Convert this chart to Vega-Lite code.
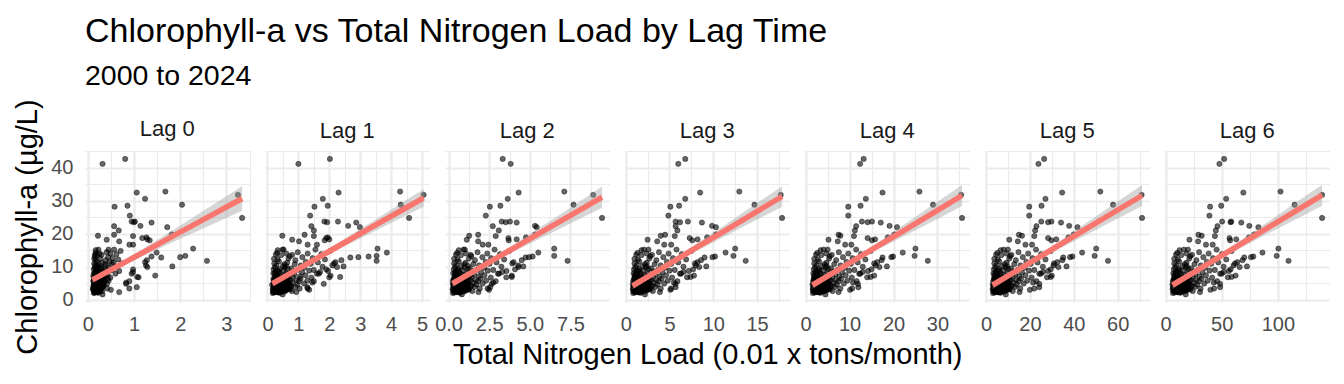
{
"$schema":"https://vega.github.io/schema/vega-lite/v6.json",
"background":"white",
"padding":{"left":13,"top":15,"right":10,"bottom":5},
"bounds":"flush",
"spacing":15,
"title":{"text":"Chlorophyll-a vs Total Nitrogen Load by Lag Time","subtitle":"2000 to 2024","anchor":"start","frame":"group","fontSize":34,"fontWeight":"normal","color":"#000000","subtitleFontSize":28.5,"subtitleColor":"#000000","subtitlePadding":13,"offset":8},
"datasets":{
"pts":[
{"y":42.7,"x0":0.81,"x1":2.02,"x2":3.33,"x3":6.8,"x4":13.2,"x5":26.5,"x6":52.2},
{"y":41.2,"x0":0.32,"x1":1.0,"x2":3.82,"x3":6.0,"x4":12.4,"x5":23.9,"x6":48.0},
{"y":32.5,"x0":1.06,"x1":2.3,"x2":4.31,"x3":8.5,"x4":17.5,"x5":34.7,"x6":69.3},
{"y":32.8,"x0":1.68,"x1":4.29,"x2":7.12,"x3":12.97,"x4":25.9,"x5":52.1,"x6":102.4},
{"y":31.8,"x0":3.25,"x1":5.05,"x2":8.9,"x3":17.7,"x4":35.4,"x5":70.9,"x6":139.4},
{"y":24.8,"x0":3.34,"x1":4.58,"x2":9.44,"x3":17.85,"x4":35.6,"x5":71.1,"x6":139.4},
{"y":28.8,"x0":2.04,"x1":4.31,"x2":7.69,"x3":14.7,"x4":29.0,"x5":57.9,"x6":114.9},
{"y":30.6,"x0":1.24,"x1":1.79,"x2":3.64,"x3":6.8,"x4":13.7,"x5":27.1,"x6":54.0},
{"y":28.2,"x0":0.58,"x1":1.52,"x2":2.54,"x3":5.1,"x4":9.7,"x5":19.7,"x6":39.7},
{"y":28.5,"x0":0.86,"x1":1.95,"x2":3.19,"x3":6.1,"x4":12.5,"x5":25.3,"x6":49.6},
{"y":25.5,"x0":0.91,"x1":1.38,"x2":2.29,"x3":4.87,"x4":9.7,"x5":19.7,"x6":39.1},
{"y":23.7,"x0":0.95,"x1":1.84,"x2":3.27,"x3":5.7,"x4":12.8,"x5":25.2,"x6":50.4},
{"y":23.5,"x0":1.0,"x1":1.93,"x2":3.52,"x3":6.2,"x4":14.1,"x5":28.3,"x6":57.9},
{"y":23.7,"x0":1.02,"x1":2.28,"x2":3.78,"x3":7.1,"x4":15.1,"x5":29.8,"x6":58.5},
{"y":23.4,"x0":1.38,"x1":2.87,"x2":4.19,"x3":8.7,"x4":17.1,"x5":34.2,"x6":67.5},
{"y":22.3,"x0":0.57,"x1":1.42,"x2":2.72,"x3":5.7,"x4":11.5,"x5":23.0,"x6":46.3},
{"y":22.4,"x0":1.14,"x1":2.61,"x2":5.32,"x3":9.85,"x4":19.1,"x5":37.9,"x6":74.6},
{"y":22.0,"x0":1.72,"x1":2.99,"x2":5.42,"x3":10.3,"x4":20.8,"x5":41.7,"x6":82.7},
{"y":21.0,"x0":0.67,"x1":1.5,"x2":3.09,"x3":5.9,"x4":11.2,"x5":22.4,"x6":44.8},
{"y":19.4,"x0":0.22,"x1":0.48,"x2":1.27,"x3":4.0,"x4":7.9,"x5":16.4,"x6":32.2},
{"y":18.2,"x0":0.41,"x1":0.8,"x2":1.12,"x3":2.5,"x4":5.2,"x5":10.6,"x6":21.3},
{"y":19.7,"x0":0.57,"x1":1.2,"x2":1.82,"x3":4.5,"x4":7.5,"x5":15.0,"x6":29.3},
{"y":19.8,"x0":1.82,"x1":2.95,"x2":5.32,"x3":10.3,"x4":20.2,"x5":40.0,"x6":79.0},
{"y":18.9,"x0":1.27,"x1":1.95,"x2":4.76,"x3":9.3,"x4":18.7,"x5":37.6,"x6":74.3},
{"y":18.7,"x0":1.18,"x1":1.9,"x2":3.68,"x3":7.3,"x4":14.1,"x5":28.3,"x6":57.0},
{"y":18.3,"x0":1.29,"x1":2.0,"x2":4.19,"x3":8.2,"x4":15.8,"x5":32.0,"x6":63.0},
{"y":18.0,"x0":1.34,"x1":1.85,"x2":3.7,"x3":7.6,"x4":15.1,"x5":29.8,"x6":57.5},
{"y":17.7,"x0":0.68,"x1":1.02,"x2":1.82,"x3":3.6,"x4":7.3,"x5":14.5,"x6":29.0},
{"y":16.7,"x0":0.9,"x1":1.3,"x2":2.1,"x3":4.4,"x4":9.0,"x5":18.0,"x6":36.0},
{"y":16.7,"x0":0.98,"x1":1.6,"x2":2.45,"x3":5.2,"x4":10.4,"x5":21.0,"x6":42.0},
{"y":15.5,"x0":2.28,"x1":3.56,"x2":6.5,"x3":12.5,"x4":25.0,"x5":50.2,"x6":100.5},
{"y":13.3,"x0":2.11,"x1":3.53,"x2":6.5,"x3":12.3,"x4":24.8,"x5":49.5,"x6":99.0},
{"y":11.8,"x0":2.58,"x1":3.53,"x2":7.32,"x3":13.7,"x4":27.8,"x5":55.6,"x6":109.5},
{"y":14.3,"x0":1.49,"x1":3.86,"x2":5.52,"x3":11.4,"x4":22.1,"x5":43.8,"x6":86.3},
{"y":13.1,"x0":1.38,"x1":3.27,"x2":5.17,"x3":10.2,"x4":19.9,"x5":39.4,"x6":78.2},
{"y":12.9,"x0":2.0,"x1":2.94,"x2":4.95,"x3":9.9,"x4":19.5,"x5":38.3,"x6":76.1},
{"y":12.8,"x0":1.59,"x1":2.68,"x2":4.74,"x3":9.0,"x4":17.5,"x5":35.2,"x6":70.1},
{"y":12.0,"x0":1.28,"x1":2.39,"x2":4.5,"x3":8.6,"x4":17.3,"x5":34.8,"x6":68.6},
{"y":10.1,"x0":1.83,"x1":2.46,"x2":4.6,"x3":9.2,"x4":18.5,"x5":36.7,"x6":72.5},
{"y":10.4,"x0":1.26,"x1":2.1,"x2":4.29,"x3":8.0,"x4":15.9,"x5":30.8,"x6":60.6},
{"y":9.2,"x0":0.98,"x1":1.9,"x2":4.09,"x3":7.7,"x4":15.0,"x5":29.5,"x6":58.0},
{"y":7.3,"x0":1.46,"x1":2.04,"x2":3.89,"x3":7.8,"x4":15.6,"x5":30.0,"x6":62.4},
{"y":6.9,"x0":1.07,"x1":2.35,"x2":3.89,"x3":7.4,"x4":14.8,"x5":29.5,"x6":58.8},
{"y":4.8,"x0":0.83,"x1":1.82,"x2":2.66,"x3":5.7,"x4":11.9,"x5":24.3,"x6":48.6},
{"y":3.8,"x0":1.06,"x1":1.29,"x2":2.56,"x3":5.7,"x4":12.0,"x5":24.3,"x6":48.6},
{"y":3.4,"x0":0.9,"x1":1.3,"x2":2.4,"x3":5.2,"x4":10.6,"x5":22.0,"x6":43.3},
{"y":2.3,"x0":0.68,"x1":0.93,"x2":1.84,"x3":3.9,"x4":7.5,"x5":15.3,"x6":30.7},
{"y":1.6,"x0":0.32,"x1":0.49,"x2":0.82,"x3":2.2,"x4":4.5,"x5":9.0,"x6":18.0},
{"y":15.0,"x0":0.17,"x1":0.33,"x2":0.63,"x3":1.8,"x4":3.4,"x5":6.7,"x6":12.5},
{"y":15.2,"x0":0.45,"x1":0.49,"x2":1.0,"x3":2.6,"x4":5.0,"x5":10.0,"x6":20.0},
{"y":10.2,"x0":0.21,"x1":0.6,"x2":1.2,"x3":2.4,"x4":4.8,"x5":9.6,"x6":19.0},
{"y":19.3,"x0":0.98,"x1":1.5,"x2":2.9,"x3":5.6,"x4":11.0,"x5":22.0,"x6":44.0},
{"y":13.2,"x0":0.15,"x1":0.72,"x2":1.4,"x3":2.8,"x4":5.5,"x5":11.0,"x6":22.0},
{"y":11.4,"x0":1.24,"x1":2.2,"x2":4.0,"x3":8.2,"x4":16.3,"x5":32.5,"x6":64.0},
{"y":9.9,"x0":1.29,"x1":2.25,"x2":4.3,"x3":8.4,"x4":16.8,"x5":33.0,"x6":66.0},
{"y":8.4,"x0":0.98,"x1":1.7,"x2":3.3,"x3":6.6,"x4":13.0,"x5":26.0,"x6":52.0},
{"y":7.9,"x0":0.95,"x1":1.6,"x2":3.1,"x3":6.3,"x4":12.4,"x5":25.0,"x6":50.0},
{"y":5.6,"x0":0.9,"x1":1.5,"x2":2.9,"x3":5.9,"x4":11.6,"x5":23.0,"x6":46.0},
{"y":5.2,"x0":0.83,"x1":1.45,"x2":2.75,"x3":5.5,"x4":10.8,"x5":21.5,"x6":43.0},
{"y":6.8,"x0":1.1,"x1":2.0,"x2":3.55,"x3":7.0,"x4":14.0,"x5":27.8,"x6":55.5},
{"y":3.2,"x0":0.11,"x1":0.17,"x2":0.25,"x3":0.8,"x4":1.6,"x5":3.0,"x6":6.3},
{"y":4.5,"x0":0.13,"x1":0.15,"x2":0.28,"x3":0.82,"x4":1.55,"x5":3.1,"x6":6.2},
{"y":5.6,"x0":0.12,"x1":0.2,"x2":0.26,"x3":0.85,"x4":1.7,"x5":3.3,"x6":6.5},
{"y":2.6,"x0":0.14,"x1":0.18,"x2":0.3,"x3":0.9,"x4":1.75,"x5":3.4,"x6":7.1},
{"y":3.9,"x0":0.12,"x1":0.22,"x2":0.33,"x3":0.9,"x4":1.8,"x5":3.5,"x6":6.9},
{"y":6.3,"x0":0.15,"x1":0.19,"x2":0.31,"x3":0.95,"x4":1.85,"x5":3.7,"x6":7.3},
{"y":3.0,"x0":0.13,"x1":0.24,"x2":0.36,"x3":1.0,"x4":1.95,"x5":3.8,"x6":7.9},
{"y":4.8,"x0":0.16,"x1":0.2,"x2":0.33,"x3":1.0,"x4":2.0,"x5":3.9,"x6":7.7},
{"y":7.2,"x0":0.12,"x1":0.25,"x2":0.4,"x3":1.02,"x4":1.9,"x5":3.8,"x6":7.8},
{"y":2.2,"x0":0.15,"x1":0.21,"x2":0.36,"x3":1.05,"x4":2.1,"x5":4.0,"x6":8.3},
{"y":3.6,"x0":0.14,"x1":0.27,"x2":0.42,"x3":1.1,"x4":2.1,"x5":4.3,"x6":8.5},
{"y":5.3,"x0":0.17,"x1":0.23,"x2":0.38,"x3":1.1,"x4":2.2,"x5":4.2,"x6":8.7},
{"y":4.1,"x0":0.15,"x1":0.3,"x2":0.45,"x3":1.15,"x4":2.25,"x5":4.4,"x6":9.0},
{"y":2.8,"x0":0.18,"x1":0.25,"x2":0.43,"x3":1.2,"x4":2.3,"x5":4.5,"x6":9.4},
{"y":6.0,"x0":0.14,"x1":0.3,"x2":0.5,"x3":1.2,"x4":2.4,"x5":4.7,"x6":9.2},
{"y":8.4,"x0":0.17,"x1":0.26,"x2":0.42,"x3":1.22,"x4":2.35,"x5":4.6,"x6":9.3},
{"y":3.4,"x0":0.16,"x1":0.31,"x2":0.48,"x3":1.25,"x4":2.45,"x5":4.8,"x6":9.8},
{"y":4.6,"x0":0.19,"x1":0.28,"x2":0.52,"x3":1.3,"x4":2.5,"x5":5.0,"x6":10.0},
{"y":5.8,"x0":0.15,"x1":0.33,"x2":0.49,"x3":1.3,"x4":2.6,"x5":5.1,"x6":10.2},
{"y":2.4,"x0":0.17,"x1":0.3,"x2":0.55,"x3":1.35,"x4":2.65,"x5":5.2,"x6":10.4},
{"y":3.1,"x0":0.2,"x1":0.35,"x2":0.54,"x3":1.4,"x4":2.7,"x5":5.4,"x6":10.9},
{"y":7.0,"x0":0.16,"x1":0.31,"x2":0.58,"x3":1.4,"x4":2.8,"x5":5.4,"x6":11.0},
{"y":4.2,"x0":0.18,"x1":0.37,"x2":0.6,"x3":1.45,"x4":2.85,"x5":5.6,"x6":11.3},
{"y":5.1,"x0":0.21,"x1":0.34,"x2":0.62,"x3":1.5,"x4":2.9,"x5":5.8,"x6":11.6},
{"y":9.3,"x0":0.17,"x1":0.39,"x2":0.58,"x3":1.52,"x4":3.0,"x5":5.9,"x6":11.8},
{"y":2.9,"x0":0.19,"x1":0.36,"x2":0.66,"x3":1.55,"x4":3.05,"x5":6.0,"x6":12.1},
{"y":3.7,"x0":0.22,"x1":0.4,"x2":0.63,"x3":1.6,"x4":3.1,"x5":6.2,"x6":12.4},
{"y":6.4,"x0":0.18,"x1":0.37,"x2":0.69,"x3":1.6,"x4":3.15,"x5":6.3,"x6":12.6},
{"y":4.5,"x0":0.2,"x1":0.42,"x2":0.7,"x3":1.65,"x4":3.2,"x5":6.4,"x6":12.9},
{"y":2.1,"x0":0.23,"x1":0.39,"x2":0.72,"x3":1.7,"x4":3.35,"x5":6.6,"x6":13.2},
{"y":5.5,"x0":0.19,"x1":0.44,"x2":0.69,"x3":1.7,"x4":3.3,"x5":6.5,"x6":13.4},
{"y":7.8,"x0":0.21,"x1":0.41,"x2":0.76,"x3":1.75,"x4":3.45,"x5":6.8,"x6":13.6},
{"y":3.3,"x0":0.24,"x1":0.46,"x2":0.74,"x3":1.8,"x4":3.5,"x5":7.0,"x6":14.0},
{"y":4.9,"x0":0.2,"x1":0.43,"x2":0.79,"x3":1.8,"x4":3.55,"x5":6.9,"x6":14.1},
{"y":6.1,"x0":0.22,"x1":0.47,"x2":0.77,"x3":1.85,"x4":3.6,"x5":7.2,"x6":14.4},
{"y":2.7,"x0":0.25,"x1":0.45,"x2":0.83,"x3":1.9,"x4":3.75,"x5":7.4,"x6":14.7},
{"y":10.2,"x0":0.2,"x1":0.5,"x2":0.8,"x3":1.9,"x4":3.7,"x5":7.3,"x6":14.9},
{"y":4.0,"x0":0.23,"x1":0.49,"x2":0.86,"x3":1.95,"x4":3.85,"x5":7.5,"x6":15.1},
{"y":5.7,"x0":0.26,"x1":0.47,"x2":0.88,"x3":2.0,"x4":3.9,"x5":7.7,"x6":15.6},
{"y":8.9,"x0":0.21,"x1":0.52,"x2":0.85,"x3":2.0,"x4":3.95,"x5":7.8,"x6":15.5},
{"y":3.5,"x0":0.24,"x1":0.5,"x2":0.9,"x3":2.05,"x4":4.0,"x5":7.9,"x6":16.0},
{"y":4.4,"x0":0.27,"x1":0.54,"x2":0.93,"x3":2.1,"x4":4.1,"x5":8.1,"x6":16.3},
{"y":6.8,"x0":0.22,"x1":0.51,"x2":0.9,"x3":2.1,"x4":4.15,"x5":8.2,"x6":16.5},
{"y":2.5,"x0":0.25,"x1":0.55,"x2":0.96,"x3":2.15,"x4":4.2,"x5":8.3,"x6":16.8},
{"y":5.0,"x0":0.28,"x1":0.53,"x2":0.99,"x3":2.2,"x4":4.3,"x5":8.5,"x6":17.1},
{"y":7.5,"x0":0.23,"x1":0.57,"x2":0.95,"x3":2.2,"x4":4.35,"x5":8.5,"x6":17.3},
{"y":3.8,"x0":0.26,"x1":0.6,"x2":1.04,"x3":2.3,"x4":4.5,"x5":8.9,"x6":17.9},
{"y":9.8,"x0":0.29,"x1":0.56,"x2":1.0,"x3":2.3,"x4":4.55,"x5":9.0,"x6":18.1},
{"y":6.2,"x0":0.24,"x1":0.62,"x2":1.07,"x3":2.35,"x4":4.6,"x5":9.1,"x6":18.4},
{"y":4.3,"x0":0.27,"x1":0.59,"x2":1.09,"x3":2.4,"x4":4.7,"x5":9.3,"x6":18.8},
{"y":11.2,"x0":0.3,"x1":0.64,"x2":1.05,"x3":2.4,"x4":4.75,"x5":9.4,"x6":18.7},
{"y":2.9,"x0":0.25,"x1":0.61,"x2":1.12,"x3":2.45,"x4":4.8,"x5":9.5,"x6":19.2},
{"y":5.4,"x0":0.29,"x1":0.66,"x2":1.1,"x3":2.5,"x4":4.9,"x5":9.7,"x6":19.4},
{"y":8.1,"x0":0.26,"x1":0.62,"x2":1.14,"x3":2.5,"x4":4.95,"x5":9.8,"x6":19.6},
{"y":3.6,"x0":0.3,"x1":0.68,"x2":1.16,"x3":2.6,"x4":5.1,"x5":10.1,"x6":20.3},
{"y":6.6,"x0":0.27,"x1":0.65,"x2":1.2,"x3":2.6,"x4":5.15,"x5":10.0,"x6":20.2},
{"y":4.7,"x0":0.31,"x1":0.71,"x2":1.21,"x3":2.7,"x4":5.3,"x5":10.5,"x6":21.0},
{"y":12.5,"x0":0.27,"x1":0.68,"x2":1.25,"x3":2.7,"x4":5.35,"x5":10.6,"x6":21.2},
{"y":7.3,"x0":0.32,"x1":0.7,"x2":1.3,"x3":2.8,"x4":5.5,"x5":10.9,"x6":21.9},
{"y":3.1,"x0":0.28,"x1":0.74,"x2":1.26,"x3":2.8,"x4":5.55,"x5":10.8,"x6":22.0},
{"y":5.9,"x0":0.33,"x1":0.75,"x2":1.35,"x3":2.9,"x4":5.7,"x5":11.3,"x6":22.6},
{"y":9.5,"x0":0.29,"x1":0.77,"x2":1.31,"x3":2.9,"x4":5.75,"x5":11.4,"x6":22.8},
{"y":4.2,"x0":0.34,"x1":0.76,"x2":1.4,"x3":3.0,"x4":5.9,"x5":11.7,"x6":23.4},
{"y":13.6,"x0":0.3,"x1":0.8,"x2":1.36,"x3":3.0,"x4":5.95,"x5":11.6,"x6":23.6},
{"y":6.9,"x0":0.35,"x1":0.82,"x2":1.42,"x3":3.1,"x4":6.1,"x5":12.1,"x6":24.3},
{"y":2.6,"x0":0.31,"x1":0.79,"x2":1.46,"x3":3.1,"x4":6.15,"x5":12.2,"x6":24.2},
{"y":8.6,"x0":0.36,"x1":0.85,"x2":1.48,"x3":3.2,"x4":6.3,"x5":12.5,"x6":25.0},
{"y":5.2,"x0":0.32,"x1":0.81,"x2":1.51,"x3":3.2,"x4":6.35,"x5":12.4,"x6":25.1},
{"y":10.8,"x0":0.37,"x1":0.88,"x2":1.52,"x3":3.3,"x4":6.5,"x5":12.9,"x6":25.8},
{"y":3.9,"x0":0.33,"x1":0.9,"x2":1.61,"x3":3.4,"x4":6.7,"x5":13.3,"x6":26.5},
{"y":7.7,"x0":0.38,"x1":0.87,"x2":1.57,"x3":3.4,"x4":6.75,"x5":13.4,"x6":26.7},
{"y":6.0,"x0":0.34,"x1":0.94,"x2":1.66,"x3":3.5,"x4":6.9,"x5":13.7,"x6":27.3},
{"y":12.0,"x0":0.39,"x1":0.9,"x2":1.62,"x3":3.5,"x4":6.95,"x5":13.6,"x6":27.5},
{"y":4.6,"x0":0.35,"x1":0.96,"x2":1.72,"x3":3.6,"x4":7.1,"x5":14.1,"x6":28.2},
{"y":9.1,"x0":0.4,"x1":0.98,"x2":1.74,"x3":3.7,"x4":7.3,"x5":14.5,"x6":29.0},
{"y":5.6,"x0":0.37,"x1":1.02,"x2":1.82,"x3":3.8,"x4":7.5,"x5":14.9,"x6":29.8},
{"y":14.4,"x0":0.41,"x1":0.98,"x2":1.78,"x3":3.8,"x4":7.55,"x5":14.8,"x6":29.9},
{"y":7.1,"x0":0.38,"x1":1.05,"x2":1.86,"x3":3.9,"x4":7.7,"x5":15.2,"x6":30.5},
{"y":3.4,"x0":0.42,"x1":1.04,"x2":1.92,"x3":4.0,"x4":7.9,"x5":15.6,"x6":31.2},
{"y":10.4,"x0":0.39,"x1":1.08,"x2":1.88,"x3":4.0,"x4":7.95,"x5":15.7,"x6":31.4},
{"y":6.4,"x0":0.43,"x1":1.07,"x2":1.97,"x3":4.1,"x4":8.1,"x5":16.0,"x6":32.1},
{"y":8.3,"x0":0.4,"x1":1.12,"x2":2.0,"x3":4.2,"x4":8.3,"x5":16.4,"x6":32.9},
{"y":12.9,"x0":0.44,"x1":1.13,"x2":2.08,"x3":4.3,"x4":8.5,"x5":16.8,"x6":33.7},
{"y":4.9,"x0":0.42,"x1":1.18,"x2":2.1,"x3":4.4,"x4":8.7,"x5":17.2,"x6":34.5},
{"y":9.7,"x0":0.46,"x1":1.19,"x2":2.18,"x3":4.5,"x4":8.9,"x5":17.6,"x6":35.2},
{"y":7.4,"x0":0.43,"x1":1.23,"x2":2.21,"x3":4.6,"x4":9.1,"x5":18.0,"x6":36.0},
{"y":11.5,"x0":0.47,"x1":1.24,"x2":2.28,"x3":4.7,"x4":9.3,"x5":18.4,"x6":36.8},
{"y":5.8,"x0":0.45,"x1":1.29,"x2":2.31,"x3":4.8,"x4":9.5,"x5":18.8,"x6":37.6},
{"y":14.0,"x0":0.49,"x1":1.3,"x2":2.38,"x3":4.9,"x4":9.7,"x5":19.2,"x6":38.4},
{"y":8.8,"x0":0.47,"x1":1.35,"x2":2.41,"x3":5.0,"x4":9.9,"x5":19.6,"x6":39.2},
{"y":3.0,"x0":0.5,"x1":1.35,"x2":2.49,"x3":5.1,"x4":10.1,"x5":20.0,"x6":40.0},
{"y":10.9,"x0":0.52,"x1":1.4,"x2":2.52,"x3":5.2,"x4":10.3,"x5":20.4,"x6":40.7},
{"y":6.7,"x0":0.49,"x1":1.42,"x2":2.6,"x3":5.3,"x4":10.5,"x5":20.8,"x6":41.5},
{"y":12.6,"x0":0.54,"x1":1.46,"x2":2.62,"x3":5.4,"x4":10.7,"x5":21.2,"x6":42.3},
{"y":9.0,"x0":0.52,"x1":1.5,"x2":2.75,"x3":5.6,"x4":11.1,"x5":22.0,"x6":43.9},
{"y":15.2,"x0":0.57,"x1":1.55,"x2":2.83,"x3":5.8,"x4":11.5,"x5":22.8,"x6":45.5},
{"y":11.3,"x0":0.56,"x1":1.63,"x2":2.95,"x3":6.0,"x4":11.85,"x5":23.5,"x6":47.0},
{"y":7.9,"x0":0.6,"x1":1.66,"x2":3.04,"x3":6.2,"x4":12.2,"x5":24.3,"x6":48.6},
{"y":13.8,"x0":0.62,"x1":1.74,"x2":3.16,"x3":6.4,"x4":12.6,"x5":25.1,"x6":50.2},
{"y":10.0,"x0":0.63,"x1":1.78,"x2":3.25,"x3":6.6,"x4":13.0,"x5":25.9,"x6":51.7},
{"y":12.2,"x0":0.66,"x1":1.86,"x2":3.42,"x3":6.9,"x4":13.6,"x5":27.1,"x6":54.1},
{"y":8.7,"x0":0.68,"x1":1.96,"x2":3.56,"x3":7.2,"x4":14.2,"x5":28.3,"x6":56.4},
{"y":14.8,"x0":0.71,"x1":2.03,"x2":3.73,"x3":7.5,"x4":14.8,"x5":29.5,"x6":58.8},
{"y":11.0,"x0":0.74,"x1":2.15,"x2":3.92,"x3":7.9,"x4":15.6,"x5":31.0,"x6":61.9},
{"y":4.9,"x0":0.14,"x1":0.2,"x2":0.29,"x3":0.9,"x4":1.75,"x5":3.4,"x6":7.0},
{"y":5.9,"x0":0.13,"x1":0.22,"x2":0.35,"x3":1.0,"x4":1.95,"x5":3.8,"x6":7.8},
{"y":2.9,"x0":0.15,"x1":0.25,"x2":0.4,"x3":1.1,"x4":2.15,"x5":4.2,"x6":8.6},
{"y":4.4,"x0":0.16,"x1":0.28,"x2":0.44,"x3":1.2,"x4":2.35,"x5":4.6,"x6":9.3},
{"y":3.0,"x0":0.17,"x1":0.3,"x2":0.5,"x3":1.3,"x4":2.55,"x5":5.0,"x6":10.1},
{"y":5.5,"x0":0.17,"x1":0.33,"x2":0.55,"x3":1.4,"x4":2.75,"x5":5.4,"x6":10.9},
{"y":3.9,"x0":0.18,"x1":0.36,"x2":0.6,"x3":1.5,"x4":2.95,"x5":5.8,"x6":11.7},
{"y":2.6,"x0":0.19,"x1":0.38,"x2":0.66,"x3":1.6,"x4":3.15,"x5":6.2,"x6":12.5},
{"y":4.0,"x0":0.2,"x1":0.41,"x2":0.71,"x3":1.7,"x4":3.35,"x5":6.6,"x6":13.3},
{"y":5.9,"x0":0.21,"x1":0.44,"x2":0.76,"x3":1.8,"x4":3.55,"x5":7.0,"x6":14.0},
{"y":3.8,"x0":0.22,"x1":0.47,"x2":0.81,"x3":1.9,"x4":3.75,"x5":7.35,"x6":14.8},
{"y":2.9,"x0":0.23,"x1":0.5,"x2":0.86,"x3":2.0,"x4":3.95,"x5":7.7,"x6":15.6},
{"y":5.6,"x0":0.23,"x1":0.52,"x2":0.92,"x3":2.1,"x4":4.1,"x5":8.1,"x6":16.4},
{"y":3.2,"x0":0.24,"x1":0.55,"x2":0.97,"x3":2.2,"x4":4.3,"x5":8.5,"x6":17.2},
{"y":5.0,"x0":0.26,"x1":0.61,"x2":1.07,"x3":2.4,"x4":4.7,"x5":9.3,"x6":18.8},
{"y":3.4,"x0":0.27,"x1":0.64,"x2":1.12,"x3":2.5,"x4":4.9,"x5":9.7,"x6":19.5},
{"y":6.0,"x0":0.29,"x1":0.69,"x2":1.23,"x3":2.7,"x4":5.3,"x5":10.5,"x6":21.1},
{"y":4.1,"x0":0.3,"x1":0.75,"x2":1.33,"x3":2.9,"x4":5.7,"x5":11.3,"x6":22.7},
{"y":7.7,"x0":0.16,"x1":0.3,"x2":0.5,"x3":1.3,"x4":2.55,"x5":5.0,"x6":10.1},
{"y":8.6,"x0":0.19,"x1":0.38,"x2":0.66,"x3":1.6,"x4":3.15,"x5":6.2,"x6":12.5},
{"y":10.8,"x0":0.24,"x1":0.55,"x2":0.97,"x3":2.2,"x4":4.3,"x5":8.5,"x6":17.2},
{"y":9.3,"x0":0.28,"x1":0.66,"x2":1.18,"x3":2.6,"x4":5.1,"x5":10.1,"x6":20.3},
{"y":9.8,"x0":0.15,"x1":0.24,"x2":0.4,"x3":1.1,"x4":2.15,"x5":4.2,"x6":8.6},
{"y":11.0,"x0":0.14,"x1":0.22,"x2":0.34,"x3":1.0,"x4":1.95,"x5":3.8,"x6":7.8},
{"y":8.0,"x0":0.13,"x1":0.19,"x2":0.29,"x3":0.9,"x4":1.75,"x5":3.4,"x6":7.0},
{"y":12.2,"x0":0.17,"x1":0.33,"x2":0.55,"x3":1.4,"x4":2.75,"x5":5.4,"x6":10.9},
{"y":13.5,"x0":0.21,"x1":0.44,"x2":0.76,"x3":1.8,"x4":3.55,"x5":7.0,"x6":14.0},
{"y":14.0,"x0":0.26,"x1":0.61,"x2":1.07,"x3":2.4,"x4":4.7,"x5":9.3,"x6":18.8},
{"y":13.7,"x0":0.16,"x1":0.27,"x2":0.45,"x3":1.2,"x4":2.35,"x5":4.6,"x6":9.3},
{"y":15.2,"x0":0.23,"x1":0.52,"x2":0.92,"x3":2.1,"x4":4.1,"x5":8.1,"x6":16.4},
{"y":2.0,"x0":0.13,"x1":0.17,"x2":0.27,"x3":0.85,"x4":1.65,"x5":3.2,"x6":6.6},
{"y":3.4,"x0":0.12,"x1":0.19,"x2":0.29,"x3":0.9,"x4":1.75,"x5":3.4,"x6":7.0},
{"y":4.2,"x0":0.14,"x1":0.2,"x2":0.32,"x3":0.95,"x4":1.85,"x5":3.6,"x6":7.4},
{"y":2.5,"x0":0.14,"x1":0.21,"x2":0.34,"x3":1.0,"x4":1.95,"x5":3.8,"x6":7.8},
{"y":6.6,"x0":0.13,"x1":0.23,"x2":0.35,"x3":1.0,"x4":1.95,"x5":3.8,"x6":7.8},
{"y":3.8,"x0":0.15,"x1":0.23,"x2":0.37,"x3":1.05,"x4":2.05,"x5":4.0,"x6":8.2},
{"y":4.6,"x0":0.14,"x1":0.25,"x2":0.39,"x3":1.1,"x4":2.15,"x5":4.2,"x6":8.6},
{"y":7.9,"x0":0.15,"x1":0.24,"x2":0.4,"x3":1.1,"x4":2.15,"x5":4.2,"x6":8.6},
{"y":2.3,"x0":0.15,"x1":0.26,"x2":0.42,"x3":1.15,"x4":2.25,"x5":4.4,"x6":8.9},
{"y":3.5,"x0":0.16,"x1":0.27,"x2":0.45,"x3":1.2,"x4":2.35,"x5":4.6,"x6":9.3},
{"y":5.2,"x0":0.15,"x1":0.28,"x2":0.44,"x3":1.2,"x4":2.35,"x5":4.6,"x6":9.3},
{"y":6.7,"x0":0.16,"x1":0.29,"x2":0.47,"x3":1.25,"x4":2.45,"x5":4.8,"x6":9.7},
{"y":2.7,"x0":0.16,"x1":0.3,"x2":0.5,"x3":1.3,"x4":2.55,"x5":5.0,"x6":10.1},
{"y":4.0,"x0":0.17,"x1":0.3,"x2":0.5,"x3":1.3,"x4":2.55,"x5":5.0,"x6":10.1},
{"y":5.0,"x0":0.17,"x1":0.31,"x2":0.53,"x3":1.35,"x4":2.65,"x5":5.2,"x6":10.5},
{"y":3.6,"x0":0.17,"x1":0.33,"x2":0.55,"x3":1.4,"x4":2.75,"x5":5.4,"x6":10.9},
{"y":8.9,"x0":0.18,"x1":0.32,"x2":0.56,"x3":1.4,"x4":2.75,"x5":5.4,"x6":10.9},
{"y":2.2,"x0":0.18,"x1":0.34,"x2":0.58,"x3":1.45,"x4":2.85,"x5":5.6,"x6":11.3},
{"y":4.7,"x0":0.18,"x1":0.36,"x2":0.6,"x3":1.5,"x4":2.95,"x5":5.8,"x6":11.7},
{"y":6.9,"x0":0.19,"x1":0.35,"x2":0.61,"x3":1.5,"x4":2.95,"x5":5.8,"x6":11.7},
{"y":3.3,"x0":0.19,"x1":0.37,"x2":0.63,"x3":1.55,"x4":3.05,"x5":6.0,"x6":12.1},
{"y":5.3,"x0":0.19,"x1":0.38,"x2":0.66,"x3":1.6,"x4":3.15,"x5":6.2,"x6":12.5},
{"y":2.4,"x0":0.2,"x1":0.4,"x2":0.68,"x3":1.65,"x4":3.25,"x5":6.4,"x6":12.9},
{"y":3.9,"x0":0.2,"x1":0.41,"x2":0.71,"x3":1.7,"x4":3.35,"x5":6.6,"x6":13.3},
{"y":7.3,"x0":0.2,"x1":0.42,"x2":0.7,"x3":1.7,"x4":3.35,"x5":6.6,"x6":13.3},
{"y":4.8,"x0":0.2,"x1":0.43,"x2":0.73,"x3":1.75,"x4":3.45,"x5":6.8,"x6":13.7},
{"y":2.3,"x0":0.21,"x1":0.44,"x2":0.76,"x3":1.8,"x4":3.55,"x5":7.0,"x6":14.0},
{"y":3.6,"x0":0.21,"x1":0.45,"x2":0.79,"x3":1.85,"x4":3.65,"x5":7.15,"x6":14.4},
{"y":5.2,"x0":0.22,"x1":0.47,"x2":0.81,"x3":1.9,"x4":3.75,"x5":7.35,"x6":14.8},
{"y":6.5,"x0":0.22,"x1":0.48,"x2":0.84,"x3":1.95,"x4":3.85,"x5":7.5,"x6":15.2},
{"y":3.9,"x0":0.23,"x1":0.5,"x2":0.86,"x3":2.0,"x4":3.95,"x5":7.7,"x6":15.6},
{"y":4.9,"x0":0.23,"x1":0.51,"x2":0.89,"x3":2.05,"x4":4.05,"x5":7.9,"x6":16.0},
{"y":3.0,"x0":0.24,"x1":0.52,"x2":0.92,"x3":2.1,"x4":4.1,"x5":8.1,"x6":16.4},
{"y":4.0,"x0":0.24,"x1":0.55,"x2":0.97,"x3":2.2,"x4":4.3,"x5":8.5,"x6":17.2},
{"y":6.0,"x0":0.25,"x1":0.57,"x2":0.99,"x3":2.25,"x4":4.4,"x5":8.7,"x6":17.6},
{"y":2.8,"x0":0.25,"x1":0.58,"x2":1.02,"x3":2.3,"x4":4.5,"x5":8.9,"x6":18.0},
{"y":3.6,"x0":0.26,"x1":0.61,"x2":1.07,"x3":2.4,"x4":4.7,"x5":9.3,"x6":18.8},
{"y":4.6,"x0":0.27,"x1":0.64,"x2":1.12,"x3":2.5,"x4":4.9,"x5":9.7,"x6":19.5},
{"y":5.1,"x0":0.28,"x1":0.66,"x2":1.18,"x3":2.6,"x4":5.1,"x5":10.1,"x6":20.3},
{"y":3.3,"x0":0.29,"x1":0.69,"x2":1.23,"x3":2.7,"x4":5.3,"x5":10.5,"x6":21.1},
{"y":9.2,"x0":0.13,"x1":0.2,"x2":0.32,"x3":0.95,"x4":1.85,"x5":3.6,"x6":7.4},
{"y":10.5,"x0":0.16,"x1":0.29,"x2":0.47,"x3":1.25,"x4":2.45,"x5":4.8,"x6":9.7},
{"y":11.6,"x0":0.19,"x1":0.37,"x2":0.63,"x3":1.55,"x4":3.05,"x5":6.0,"x6":12.1},
{"y":12.4,"x0":0.14,"x1":0.21,"x2":0.34,"x3":1.0,"x4":1.95,"x5":3.8,"x6":7.8},
{"y":14.2,"x0":0.17,"x1":0.31,"x2":0.53,"x3":1.35,"x4":2.65,"x5":5.2,"x6":10.5}
],
"fit":[
{"lag":0,"x":0.1,"fit":6.0,"lo":5.1,"hi":6.9},{"lag":0,"x":0.55,"fit":9.4,"lo":8.7,"hi":10.1},{"lag":0,"x":1.2,"fit":14.35,"lo":13.25,"hi":15.45},{"lag":0,"x":2.0,"fit":20.5,"lo":18.5,"hi":22.5},{"lag":0,"x":2.7,"fit":25.8,"lo":22.9,"hi":28.7},{"lag":0,"x":3.34,"fit":30.7,"lo":27.0,"hi":34.4},
{"lag":1,"x":0.16,"fit":4.9,"lo":4.0,"hi":5.8},{"lag":1,"x":1.1,"fit":9.9,"lo":9.2,"hi":10.6},{"lag":1,"x":2.2,"fit":15.75,"lo":14.75,"hi":16.75},{"lag":1,"x":3.3,"fit":21.6,"lo":20.0,"hi":23.2},{"lag":1,"x":4.3,"fit":26.9,"lo":24.7,"hi":29.1},{"lag":1,"x":5.05,"fit":30.9,"lo":28.2,"hi":33.6},
{"lag":2,"x":0.24,"fit":4.9,"lo":3.8,"hi":6.0},{"lag":2,"x":2.2,"fit":10.5,"lo":9.8,"hi":11.2},{"lag":2,"x":4.2,"fit":16.2,"lo":15.1,"hi":17.3},{"lag":2,"x":6.0,"fit":21.3,"lo":19.5,"hi":23.1},{"lag":2,"x":7.8,"fit":26.4,"lo":23.9,"hi":28.9},{"lag":2,"x":9.44,"fit":31.1,"lo":27.9,"hi":34.3},
{"lag":3,"x":0.78,"fit":4.2,"lo":3.1,"hi":5.3},{"lag":3,"x":4.5,"fit":10.1,"lo":9.4,"hi":10.8},{"lag":3,"x":8,"fit":15.7,"lo":14.6,"hi":16.8},{"lag":3,"x":11.5,"fit":21.2,"lo":19.45,"hi":22.95},{"lag":3,"x":15,"fit":26.8,"lo":24.3,"hi":29.3},{"lag":3,"x":17.85,"fit":31.3,"lo":28.2,"hi":34.4},
{"lag":4,"x":1.55,"fit":4.4,"lo":3.25,"hi":5.55},{"lag":4,"x":9,"fit":10.35,"lo":9.65,"hi":11.05},{"lag":4,"x":16,"fit":15.95,"lo":14.9,"hi":17.0},{"lag":4,"x":23,"fit":21.5,"lo":19.7,"hi":23.3},{"lag":4,"x":30,"fit":27.1,"lo":24.5,"hi":29.7},{"lag":4,"x":35.6,"fit":31.6,"lo":28.4,"hi":34.8},
{"lag":5,"x":3,"fit":4.4,"lo":3.25,"hi":5.55},{"lag":5,"x":18,"fit":10.4,"lo":9.7,"hi":11.1},{"lag":5,"x":32,"fit":16.0,"lo":14.9,"hi":17.1},{"lag":5,"x":46,"fit":21.6,"lo":19.8,"hi":23.4},{"lag":5,"x":60,"fit":27.2,"lo":24.6,"hi":29.8},{"lag":5,"x":71.1,"fit":31.6,"lo":28.4,"hi":34.8},
{"lag":6,"x":6.2,"fit":4.4,"lo":3.25,"hi":5.55},{"lag":6,"x":36,"fit":10.5,"lo":9.8,"hi":11.2},{"lag":6,"x":64,"fit":16.25,"lo":15.15,"hi":17.35},{"lag":6,"x":92,"fit":22.0,"lo":20.2,"hi":23.8},{"lag":6,"x":118,"fit":27.3,"lo":24.7,"hi":29.9},{"lag":6,"x":139.4,"fit":31.7,"lo":28.5,"hi":34.9}
]
},
"hconcat":[
{"width":164.5,"height":151,
 "title":{"text":"Lag 0","fontSize":22,"fontWeight":"normal","color":"#1A1A1A","anchor":"middle","offset":-42.5},
 "layer":[
  {"data":{"name":"pts"},"mark":{"type":"circle","size":28,"opacity":1,"fill":"#000000","fillOpacity":0.6,"stroke":"#000000","strokeOpacity":0.65,"strokeWidth":0.6},
   "encoding":{
    "x":{"field":"x0","type":"quantitative","title":null,"scale":{"domain":[-0.06,3.5],"nice":false,"zero":false},"axis":{"values":[0,0.5,1,1.5,2,2.5,3,3.5],"tickCount":50,"labelOverlap":false,"labelExpr":"datum.value % 1 === 0 ? format(datum.value,'d') : ''","gridWidth":{"condition":{"test":"datum.value % 1 === 0","value":2.2},"value":1.1}}},
    "y":{"field":"y","type":"quantitative","title":"Chlorophyll-a (µg/L)","scale":{"domain":[-0.7,45.1],"nice":false,"zero":false},"axis":{"values":[0,5,10,15,20,25,30,35,40,45],"tickCount":50,"labelOverlap":false,"labelExpr":"datum.value % 10 === 0 ? format(datum.value,'d') : ''","gridWidth":{"condition":{"test":"datum.value % 10 === 0","value":2.2},"value":1.1}}}}},
  {"data":{"name":"fit"},"transform":[{"filter":"datum.lag === 0"}],"mark":{"type":"area","color":"#999999","opacity":0.4},
   "encoding":{"x":{"field":"x","type":"quantitative","title":null},"y":{"field":"lo","type":"quantitative","title":"Chlorophyll-a (µg/L)"},"y2":{"field":"hi"}}},
  {"data":{"name":"fit"},"transform":[{"filter":"datum.lag === 0"}],"mark":{"type":"line","color":"#F8766D","strokeWidth":5.5},
   "encoding":{"x":{"field":"x","type":"quantitative","title":null},"y":{"field":"fit","type":"quantitative","title":"Chlorophyll-a (µg/L)"}}}
 ]},
{"width":164.5,"height":151,
 "title":{"text":"Lag 1","fontSize":22,"fontWeight":"normal","color":"#1A1A1A","anchor":"middle","offset":8.5},
 "layer":[
  {"data":{"name":"pts"},"mark":{"type":"circle","size":28,"opacity":1,"fill":"#000000","fillOpacity":0.6,"stroke":"#000000","strokeOpacity":0.65,"strokeWidth":0.6},
   "encoding":{
    "x":{"field":"x1","type":"quantitative","title":null,"scale":{"domain":[-0.08,5.24],"nice":false,"zero":false},"axis":{"values":[0,0.5,1,1.5,2,2.5,3,3.5,4,4.5,5],"tickCount":50,"labelOverlap":false,"labelExpr":"datum.value % 1 === 0 ? format(datum.value,'d') : ''","gridWidth":{"condition":{"test":"datum.value % 1 === 0","value":2.2},"value":1.1}}},
    "y":{"field":"y","type":"quantitative","title":null,"scale":{"domain":[-0.7,45.1],"nice":false,"zero":false},"axis":{"values":[0,5,10,15,20,25,30,35,40,45],"tickCount":50,"labels":false,"gridWidth":{"condition":{"test":"datum.value % 10 === 0","value":2.2},"value":1.1}}}}},
  {"data":{"name":"fit"},"transform":[{"filter":"datum.lag === 1"}],"mark":{"type":"area","color":"#999999","opacity":0.4},
   "encoding":{"x":{"field":"x","type":"quantitative","title":null},"y":{"field":"lo","type":"quantitative","title":null},"y2":{"field":"hi"}}},
  {"data":{"name":"fit"},"transform":[{"filter":"datum.lag === 1"}],"mark":{"type":"line","color":"#F8766D","strokeWidth":5.5},
   "encoding":{"x":{"field":"x","type":"quantitative","title":null},"y":{"field":"fit","type":"quantitative","title":null}}}
 ]},
{"width":164.5,"height":151,
 "title":{"text":"Lag 2","fontSize":22,"fontWeight":"normal","color":"#1A1A1A","anchor":"middle","offset":8.5},
 "layer":[
  {"data":{"name":"pts"},"mark":{"type":"circle","size":28,"opacity":1,"fill":"#000000","fillOpacity":0.6,"stroke":"#000000","strokeOpacity":0.65,"strokeWidth":0.6},
   "encoding":{
    "x":{"field":"x2","type":"quantitative","title":null,"scale":{"domain":[-0.22,9.9],"nice":false,"zero":false},"axis":{"values":[0,1.25,2.5,3.75,5,6.25,7.5,8.75],"tickCount":50,"labelOverlap":false,"labelExpr":"datum.value % 2.5 === 0 ? format(datum.value,'.1f') : ''","gridWidth":{"condition":{"test":"datum.value % 2.5 === 0","value":2.2},"value":1.1}}},
    "y":{"field":"y","type":"quantitative","title":null,"scale":{"domain":[-0.7,45.1],"nice":false,"zero":false},"axis":{"values":[0,5,10,15,20,25,30,35,40,45],"tickCount":50,"labels":false,"gridWidth":{"condition":{"test":"datum.value % 10 === 0","value":2.2},"value":1.1}}}}},
  {"data":{"name":"fit"},"transform":[{"filter":"datum.lag === 2"}],"mark":{"type":"area","color":"#999999","opacity":0.4},
   "encoding":{"x":{"field":"x","type":"quantitative","title":null},"y":{"field":"lo","type":"quantitative","title":null},"y2":{"field":"hi"}}},
  {"data":{"name":"fit"},"transform":[{"filter":"datum.lag === 2"}],"mark":{"type":"line","color":"#F8766D","strokeWidth":5.5},
   "encoding":{"x":{"field":"x","type":"quantitative","title":null},"y":{"field":"fit","type":"quantitative","title":null}}}
 ]},
{"width":164.5,"height":151,
 "title":{"text":"Lag 3","fontSize":22,"fontWeight":"normal","color":"#1A1A1A","anchor":"middle","offset":8.5},
 "layer":[
  {"data":{"name":"pts"},"mark":{"type":"circle","size":28,"opacity":1,"fill":"#000000","fillOpacity":0.6,"stroke":"#000000","strokeOpacity":0.65,"strokeWidth":0.6},
   "encoding":{
    "x":{"field":"x3","type":"quantitative","title":"Total Nitrogen Load (0.01 x tons/month)","scale":{"domain":[-0.08,18.7],"nice":false,"zero":false},"axis":{"values":[0,2.5,5,7.5,10,12.5,15,17.5],"tickCount":50,"labelOverlap":false,"labelExpr":"datum.value % 5 === 0 ? format(datum.value,'d') : ''","gridWidth":{"condition":{"test":"datum.value % 5 === 0","value":2.2},"value":1.1},"titleLimit":1000}},
    "y":{"field":"y","type":"quantitative","title":null,"scale":{"domain":[-0.7,45.1],"nice":false,"zero":false},"axis":{"values":[0,5,10,15,20,25,30,35,40,45],"tickCount":50,"labels":false,"gridWidth":{"condition":{"test":"datum.value % 10 === 0","value":2.2},"value":1.1}}}}},
  {"data":{"name":"fit"},"transform":[{"filter":"datum.lag === 3"}],"mark":{"type":"area","color":"#999999","opacity":0.4},
   "encoding":{"x":{"field":"x","type":"quantitative","title":"Total Nitrogen Load (0.01 x tons/month)"},"y":{"field":"lo","type":"quantitative","title":null},"y2":{"field":"hi"}}},
  {"data":{"name":"fit"},"transform":[{"filter":"datum.lag === 3"}],"mark":{"type":"line","color":"#F8766D","strokeWidth":5.5},
   "encoding":{"x":{"field":"x","type":"quantitative","title":"Total Nitrogen Load (0.01 x tons/month)"},"y":{"field":"fit","type":"quantitative","title":null}}}
 ]},
{"width":164.5,"height":151,
 "title":{"text":"Lag 4","fontSize":22,"fontWeight":"normal","color":"#1A1A1A","anchor":"middle","offset":8.5},
 "layer":[
  {"data":{"name":"pts"},"mark":{"type":"circle","size":28,"opacity":1,"fill":"#000000","fillOpacity":0.6,"stroke":"#000000","strokeOpacity":0.65,"strokeWidth":0.6},
   "encoding":{
    "x":{"field":"x4","type":"quantitative","title":null,"scale":{"domain":[-0.15,37.3],"nice":false,"zero":false},"axis":{"values":[0,5,10,15,20,25,30,35],"tickCount":50,"labelOverlap":false,"labelExpr":"datum.value % 10 === 0 ? format(datum.value,'d') : ''","gridWidth":{"condition":{"test":"datum.value % 10 === 0","value":2.2},"value":1.1}}},
    "y":{"field":"y","type":"quantitative","title":null,"scale":{"domain":[-0.7,45.1],"nice":false,"zero":false},"axis":{"values":[0,5,10,15,20,25,30,35,40,45],"tickCount":50,"labels":false,"gridWidth":{"condition":{"test":"datum.value % 10 === 0","value":2.2},"value":1.1}}}}},
  {"data":{"name":"fit"},"transform":[{"filter":"datum.lag === 4"}],"mark":{"type":"area","color":"#999999","opacity":0.4},
   "encoding":{"x":{"field":"x","type":"quantitative","title":null},"y":{"field":"lo","type":"quantitative","title":null},"y2":{"field":"hi"}}},
  {"data":{"name":"fit"},"transform":[{"filter":"datum.lag === 4"}],"mark":{"type":"line","color":"#F8766D","strokeWidth":5.5},
   "encoding":{"x":{"field":"x","type":"quantitative","title":null},"y":{"field":"fit","type":"quantitative","title":null}}}
 ]},
{"width":164.5,"height":151,
 "title":{"text":"Lag 5","fontSize":22,"fontWeight":"normal","color":"#1A1A1A","anchor":"middle","offset":8.5},
 "layer":[
  {"data":{"name":"pts"},"mark":{"type":"circle","size":28,"opacity":1,"fill":"#000000","fillOpacity":0.6,"stroke":"#000000","strokeOpacity":0.65,"strokeWidth":0.6},
   "encoding":{
    "x":{"field":"x5","type":"quantitative","title":null,"scale":{"domain":[-0.45,74.5],"nice":false,"zero":false},"axis":{"values":[0,10,20,30,40,50,60,70],"tickCount":50,"labelOverlap":false,"labelExpr":"datum.value % 20 === 0 ? format(datum.value,'d') : ''","gridWidth":{"condition":{"test":"datum.value % 20 === 0","value":2.2},"value":1.1}}},
    "y":{"field":"y","type":"quantitative","title":null,"scale":{"domain":[-0.7,45.1],"nice":false,"zero":false},"axis":{"values":[0,5,10,15,20,25,30,35,40,45],"tickCount":50,"labels":false,"gridWidth":{"condition":{"test":"datum.value % 10 === 0","value":2.2},"value":1.1}}}}},
  {"data":{"name":"fit"},"transform":[{"filter":"datum.lag === 5"}],"mark":{"type":"area","color":"#999999","opacity":0.4},
   "encoding":{"x":{"field":"x","type":"quantitative","title":null},"y":{"field":"lo","type":"quantitative","title":null},"y2":{"field":"hi"}}},
  {"data":{"name":"fit"},"transform":[{"filter":"datum.lag === 5"}],"mark":{"type":"line","color":"#F8766D","strokeWidth":5.5},
   "encoding":{"x":{"field":"x","type":"quantitative","title":null},"y":{"field":"fit","type":"quantitative","title":null}}}
 ]},
{"width":164.5,"height":151,
 "title":{"text":"Lag 6","fontSize":22,"fontWeight":"normal","color":"#1A1A1A","anchor":"middle","offset":8.5},
 "layer":[
  {"data":{"name":"pts"},"mark":{"type":"circle","size":28,"opacity":1,"fill":"#000000","fillOpacity":0.6,"stroke":"#000000","strokeOpacity":0.65,"strokeWidth":0.6},
   "encoding":{
    "x":{"field":"x6","type":"quantitative","title":null,"scale":{"domain":[-0.45,146],"nice":false,"zero":false},"axis":{"values":[0,25,50,75,100,125],"tickCount":50,"labelOverlap":false,"labelExpr":"datum.value % 50 === 0 ? format(datum.value,'d') : ''","gridWidth":{"condition":{"test":"datum.value % 50 === 0","value":2.2},"value":1.1}}},
    "y":{"field":"y","type":"quantitative","title":null,"scale":{"domain":[-0.7,45.1],"nice":false,"zero":false},"axis":{"values":[0,5,10,15,20,25,30,35,40,45],"tickCount":50,"labels":false,"gridWidth":{"condition":{"test":"datum.value % 10 === 0","value":2.2},"value":1.1}}}}},
  {"data":{"name":"fit"},"transform":[{"filter":"datum.lag === 6"}],"mark":{"type":"area","color":"#999999","opacity":0.4},
   "encoding":{"x":{"field":"x","type":"quantitative","title":null},"y":{"field":"lo","type":"quantitative","title":null},"y2":{"field":"hi"}}},
  {"data":{"name":"fit"},"transform":[{"filter":"datum.lag === 6"}],"mark":{"type":"line","color":"#F8766D","strokeWidth":5.5},
   "encoding":{"x":{"field":"x","type":"quantitative","title":null},"y":{"field":"fit","type":"quantitative","title":null}}}
 ]}
],
"config":{"font":"Liberation Sans","view":{"stroke":null},
 "axis":{"domain":false,"ticks":false,"tickSize":0,"gridColor":"#EBEBEB","labelFontSize":20,"labelColor":"#4D4D4D","labelPadding":12,"labelFlush":false,"labelOverlap":false,"titleFontSize":29,"titleFontWeight":"normal","titleColor":"#000000"},
 "axisX":{"titlePadding":6},
 "axisY":{"titlePadding":8}}
}
